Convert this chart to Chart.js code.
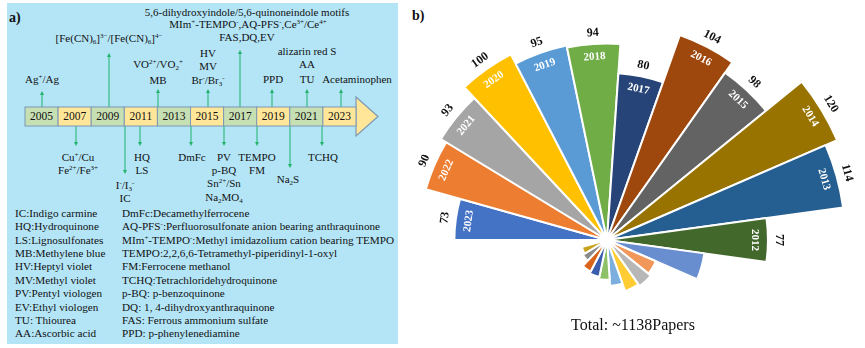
<!DOCTYPE html>
<html>
<head>
<meta charset="utf-8">
<script src="https://cdn.jsdelivr.net/npm/chart.js@4.4.0/dist/chart.umd.min.js"></script>
<style>
  body { margin:0; width:865px; height:348px; background:#fff; position:relative; overflow:hidden;
         font-family:"Liberation Serif","Times New Roman",serif; color:#111; }
  #diagram { position:absolute; left:0; top:0; }
  .t { position:absolute; transform:translate(-50%,-50%); white-space:nowrap; font-size:11px; line-height:1; }
  .row { position:absolute; transform:translateY(-50%); white-space:nowrap; font-size:11.2px; line-height:1; }
  sup { font-size:7px; vertical-align:4px; line-height:0; }
  sub { font-size:7px; vertical-align:-2px; line-height:0; }
  .tag { position:absolute; font-weight:bold; font-size:14px; line-height:1; }
  #rose { position:absolute; left:307px; top:-60px; }
  #total { position:absolute; left:633px; top:325px; transform:translate(-50%,-50%); font-size:16px; white-space:nowrap; }
</style>
</head>
<body>
<svg id="diagram" width="400" height="348"></svg>
<div id="labels"></div>
<div class="tag" style="left:9px;top:11px">a)</div>
<div class="tag" style="left:412px;top:9px">b)</div>
<canvas id="rose" width="600" height="600"></canvas>
<div id="total">Total: ~1138Papers</div>
<script>
// papers per year (rose chart, upper half)
const years = ['2023','2022','2021','2020','2019','2018','2017','2016','2015','2014','2013','2012'];
const papers = [73, 90, 93, 100, 95, 94, 80, 104, 98, 120, 114, 77];
// small mirrored wedges in the lower half (no labels)
const lowerWedges = [47, 25.5, 27, 26, 22, 19, 18, 17, 13.5, 12.5, 0];

const upperColors = ['#4472C4','#ED7D31','#A5A5A5','#FFC000','#5B9BD5','#70AD47',
                     '#264478','#9E480E','#636363','#997300','#255E91','#43682B'];
const lowerColors = ['#698ED0','#F1975A','#B7B7B7','#FFCD33','#7CAFDD','#8CC168',
                     '#3A5DAE','#D9631B','#8A8A8A','#C9A21C','#4A8BD0'];

// timeline (left panel)
const timelineYears = ['2005','2007','2009','2011','2013','2015','2017','2019','2021','2023'];
const upArrows = [[42,91],[109,53],[158,89],[208,89],[240,50],[272,89],[307,89],[341,89]];
const downArrows = [[76,146],[125,174],[140,146],[191,146],[224,146],[257,146],[290,168],[322,146]];
const notes = [
  [42,79,'Ag<sup>+</sup>/Ag'],
  [109,38,'[Fe(CN)<sub>6</sub>]<sup>3−</sup>/[Fe(CN)<sub>6</sub>]<sup>4−</sup>'],
  [158,64,'VO<sup>2+</sup>/VO<sub>2</sub><sup>+</sup>'],[158,80,'MB'],
  [208,53,'HV'],[208,66,'MV'],[208,80,'Br<sup>-</sup>/Br<sub>3</sub><sup>-</sup>'],
  [247,12,'5,6-dihydroxyindole/5,6-quinoneindole motifs'],
  [248,24,'MIm<sup>+</sup>-TEMPO<sup>-</sup>,AQ-PFS<sup>-</sup>,Ce<sup>3+</sup>/Ce<sup>4+</sup>'],
  [247,37,'FAS,DQ,EV'],
  [273,79,'PPD'],
  [307,51,'alizarin red S'],[307,64,'AA'],[307,79,'TU'],
  [357,79,'Acetaminophen'],
  [78,157,'Cu<sup>+</sup>/Cu'],[78,170,'Fe<sup>2+</sup>/Fe<sup>3+</sup>'],
  [125,185,'I<sup>-</sup>/I<sub>3</sub><sup>-</sup>'],[125,198,'IC'],
  [142,157,'HQ'],[142,170,'LS'],
  [192,157,'DmFc'],
  [224,157,'PV'],[224,170,'p-BQ'],[224,183,'Sn<sup>2+</sup>/Sn'],[224,197,'Na<sub>2</sub>MO<sub>4</sub>'],
  [257,157,'TEMPO'],[257,170,'FM'],
  [288,179,'Na<sub>2</sub>S'],
  [323,157,'TCHQ']
];
const legendLeft = ['IC:Indigo carmine','HQ:Hydroquinone','LS:Lignosulfonates','MB:Methylene blue',
  'HV:Heptyl violet','MV:Methyl violet','PV:Pentyl viologen','EV:Ethyl viologen','TU: Thiourea','AA:Ascorbic acid'];
const legendRight = ['DmFc:Decamethylferrocene',
  'AQ-PFS<sup>-</sup>:Perfluorosulfonate anion bearing anthraquinone',
  'MIm<sup>+</sup>-TEMPO<sup>-</sup>:Methyl imidazolium cation bearing TEMPO',
  'TEMPO:2,2,6,6-Tetramethyl-piperidinyl-1-oxyl','FM:Ferrocene methanol','TCHQ:Tetrachloridehydroquinone',
  'p-BQ: p-benzoquinone','DQ: 1, 4-dihydroxyanthraquinone','FAS: Ferrous ammonium sulfate','PPD: p-phenylenediamine'];

// ---- draw left panel ----
let svg = '<rect x="7" y="3" width="391" height="341" fill="#B4E5F7"/>';
const green = '#1FB36B';
upArrows.forEach(a => {
  svg += `<line x1="${a[0]}" y1="107" x2="${a[0]}" y2="${a[1]+3}" stroke="${green}" stroke-width="1"/>`;
  svg += `<polygon points="${a[0]-2},${a[1]+4} ${a[0]+2},${a[1]+4} ${a[0]},${a[1]}" fill="${green}"/>`;
});
downArrows.forEach(a => {
  svg += `<line x1="${a[0]}" y1="126" x2="${a[0]}" y2="${a[1]-3}" stroke="${green}" stroke-width="1"/>`;
  svg += `<polygon points="${a[0]-2},${a[1]-4} ${a[0]+2},${a[1]-4} ${a[0]},${a[1]}" fill="${green}"/>`;
});
svg += '<polygon points="356,97 378,116.5 356,136" fill="#FFE699" stroke="#7C98B5" stroke-width="1.2"/>';
let labelsHtml = '';
timelineYears.forEach((y,i) => {
  const x0 = 25 + i*33.1;
  const w = (i === timelineYears.length-1) ? 356 - x0 : 33.1;
  svg += `<rect x="${x0}" y="107" width="${w}" height="19" fill="${i%2 ? '#FFE699' : '#C6DFB3'}" stroke="#7C98B5" stroke-width="1"/>`;
  labelsHtml += `<div class="t" style="left:${x0+w/2}px;top:117px;font-size:11.5px">${y}</div>`;
});
document.getElementById('diagram').innerHTML = svg;

notes.forEach(n => {
  labelsHtml += `<div class="t" style="left:${n[0]}px;top:${n[1]}px">${n[2]}</div>`;
});
legendLeft.forEach((s,i) => {
  labelsHtml += `<div class="row" style="left:15px;top:${214+13.37*i}px">${s}</div>`;
});
legendRight.forEach((s,i) => {
  labelsHtml += `<div class="row" style="left:122px;top:${214+13.37*i}px">${s}</div>`;
});
document.getElementById('labels').innerHTML = labelsHtml;

// ---- rose chart ----
function drawRotated(ctx, text, cx, cy, ang, r, color, font) {
  ctx.save();
  ctx.translate(cx + Math.cos(ang)*r, cy + Math.sin(ang)*r);
  ctx.rotate(ang + Math.PI/2);
  ctx.fillStyle = color;
  ctx.font = font;
  ctx.textAlign = 'center';
  ctx.textBaseline = 'middle';
  ctx.fillText(text, 0, 0);
  ctx.restore();
}

const roseLabels = {
  id: 'roseLabels',
  afterDatasetsDraw(chart) {
    const ctx = chart.ctx;
    const arcs = chart.getDatasetMeta(0).data;
    years.forEach((y, i) => {
      const p = arcs[i].getProps(['x','y','startAngle','endAngle','outerRadius']);
      const mid = (p.startAngle + p.endAngle) / 2;
      drawRotated(ctx, y, p.x, p.y, mid, p.outerRadius - 13, '#fff', 'bold 11px "Liberation Serif"');
      drawRotated(ctx, String(papers[i]), p.x, p.y, mid, p.outerRadius + 11, '#111', 'bold 12px "Liberation Serif"');
    });
  }
};

new Chart(document.getElementById('rose'), {
  type: 'polarArea',
  data: {
    labels: years.concat(lowerWedges.map(() => '')),
    datasets: [{
      data: papers.concat(lowerWedges),
      backgroundColor: upperColors.concat(lowerColors),
      borderColor: '#ffffff',
      borderWidth: 2
    }]
  },
  options: {
    responsive: false,
    animation: false,
    layout: { padding: 0 },
    plugins: { legend: { display: false }, tooltip: { enabled: false } },
    scales: {
      r: {
        min: 0,
        max: 143.5,
        startAngle: 270,
        ticks: { display: false },
        grid: { display: false },
        angleLines: { display: false },
        pointLabels: { display: false }
      }
    }
  },
  plugins: [roseLabels]
});
</script>
</body>
</html>
